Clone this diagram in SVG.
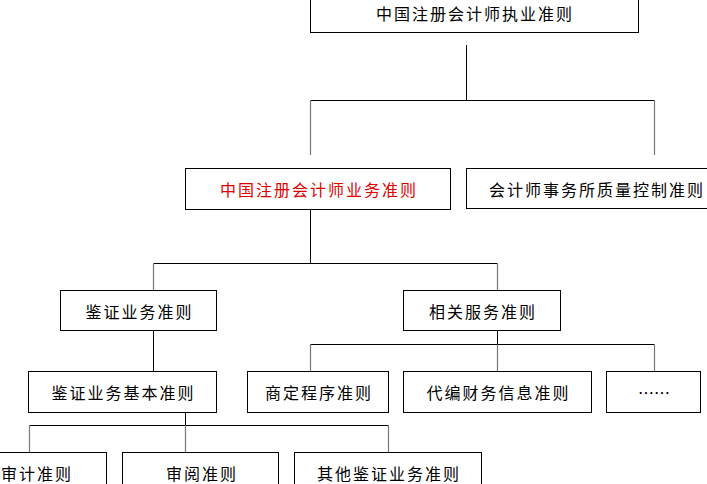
<svg xmlns="http://www.w3.org/2000/svg" width="707" height="484" viewBox="0 0 707 484">
<style>
.box{fill:#fff;stroke:#000;stroke-width:1}
.t{font-family:"Noto Sans CJK SC","Noto Sans CJK JP",sans-serif;font-size:16px;letter-spacing:2px;fill:#000;text-anchor:middle;dominant-baseline:central}
.red{fill:#e00000}
.ln{stroke:#000;stroke-width:1;fill:none}
.dr{stroke:#777;stroke-width:1.2;fill:none}
</style>
<rect width="707" height="484" fill="#fff"/>
<g id="connectors">
<path class="ln" d="M466.5,45V100.5M310.5,100.5H654.5"/>
<path class="dr" d="M310.5,100.5V155M654.5,100.5V155"/>
<path class="ln" d="M310.5,209V263.5M153.5,263.5H497.5"/>
<path class="dr" d="M153.5,263.5V290M497.5,263.5V290"/>
<path class="ln" d="M153.5,330V371"/>
<path class="ln" d="M497.5,330V344.5M310.5,344.5H654.5"/>
<path class="dr" d="M310.5,344.5V371M497.5,344.5V371M654.5,344.5V371"/>
<path class="ln" d="M185.5,412V425.5M29.5,425.5H388.5"/>
<path class="dr" d="M29.5,425.5V452M185.5,425.5V452M388.5,425.5V452"/>
</g>
<g id="n1"><rect class="box" x="310.5" y="-1.5" width="328" height="34"/><text class="t" x="475" y="13">中国注册会计师执业准则</text></g>
<g id="n2"><rect class="box" x="185.5" y="168.5" width="265" height="41"/><text class="t red" x="319" y="189">中国注册会计师业务准则</text></g>
<g id="n3"><rect class="box" x="466.5" y="168.5" width="260" height="40"/><text class="t" x="489" y="188.5" style="text-anchor:start">会计师事务所质量控制准则</text></g>
<g id="n4"><rect class="box" x="60.5" y="290.5" width="156" height="40"/><text class="t" x="139.5" y="310.5">鉴证业务准则</text></g>
<g id="n5"><rect class="box" x="403.5" y="290.5" width="157" height="40"/><text class="t" x="483" y="310.5">相关服务准则</text></g>
<g id="n6"><rect class="box" x="28.5" y="371.5" width="188" height="41"/><text class="t" x="123.5" y="392">鉴证业务基本准则</text></g>
<g id="n7"><rect class="box" x="247.5" y="371.5" width="141" height="41"/><text class="t" x="319" y="392">商定程序准则</text></g>
<g id="n8"><rect class="box" x="403.5" y="371.5" width="188" height="41"/><text class="t" x="498.5" y="392">代编财务信息准则</text></g>
<g id="n9"><rect class="box" x="606.5" y="371.5" width="94" height="41"/><text class="t" x="654" y="392" style="letter-spacing:0">……</text></g>
<g id="n10"><rect class="box" x="-35.5" y="452.5" width="142" height="40"/><text class="t" x="37" y="473">审计准则</text></g>
<g id="n11"><rect class="box" x="122.5" y="452.5" width="156" height="40"/><text class="t" x="202" y="473">审阅准则</text></g>
<g id="n12"><rect class="box" x="294.5" y="452.5" width="187" height="40"/><text class="t" x="389" y="473">其他鉴证业务准则</text></g>
</svg>
